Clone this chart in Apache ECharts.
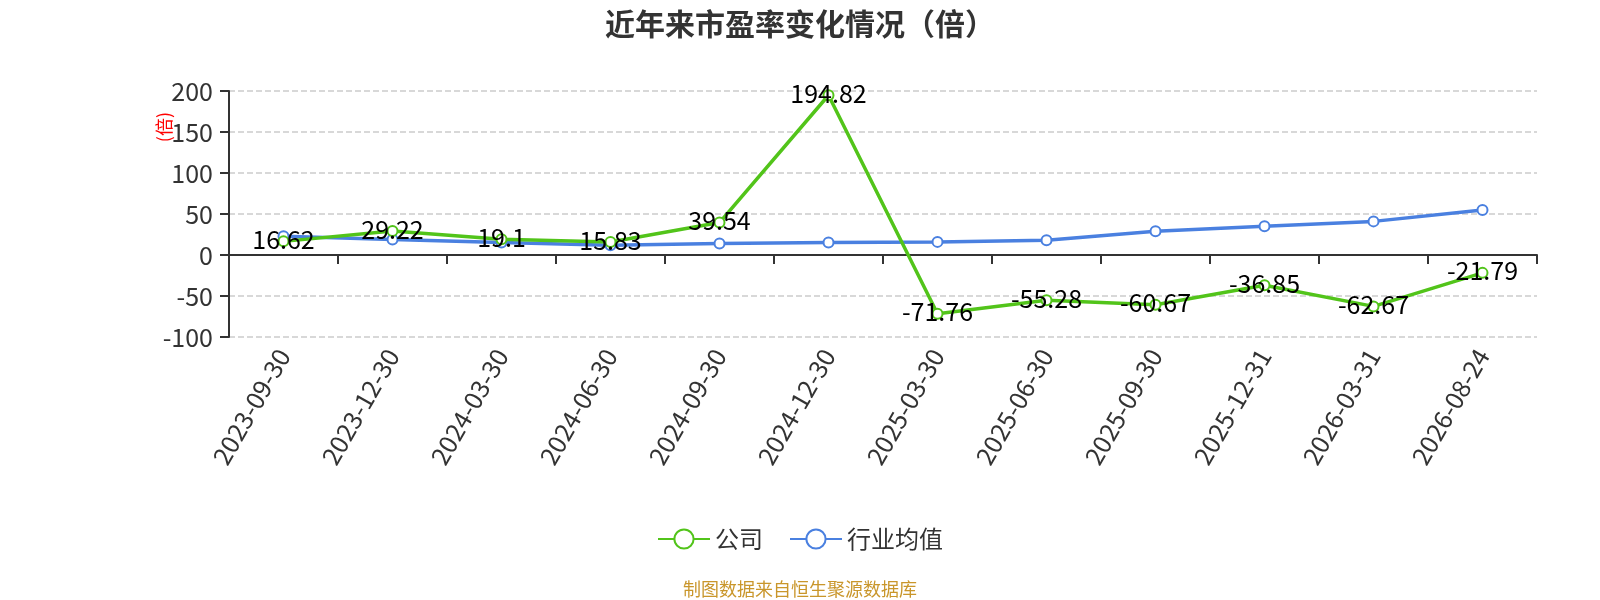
<!DOCTYPE html>
<html>
<head>
<meta charset="utf-8">
<script src="https://cdn.jsdelivr.net/npm/echarts@6/dist/echarts.min.js"></script>
<style>
  html, body { margin: 0; padding: 0; background: #fff; }
  #chart { width: 1600px; height: 600px; }
</style>
</head>
<body>
<div id="chart"></div>
<script>
const dates = ['2023-09-30', '2023-12-30', '2024-03-30', '2024-06-30', '2024-09-30', '2024-12-30',
  '2025-03-30', '2025-06-30', '2025-09-30', '2025-12-31', '2026-03-31', '2026-08-24'];
const companyPE = [16.62, 29.22, 19.1, 15.83, 39.54, 194.82, -71.76, -55.28, -60.67, -36.85, -62.67, -21.79];
const industryPE = [23, 19, 15.2, 12, 14, 15.2, 16, 18, 29, 35, 41, 55];
const yTicks = { min: -100, max: 200, step: 50 };

const font = '"Noto Sans CJK SC", "Noto Sans", sans-serif';
const green = '#52c41a';
const blue = '#4a80e0';

const chart = echarts.init(document.getElementById('chart'));
chart.setOption({
  animation: false,
  textStyle: { fontFamily: font },
  title: {
    text: '近年来市盈率变化情况（倍）',
    left: 'center',
    top: 4,
    textStyle: { fontSize: 30, fontWeight: 'bold', color: '#333', fontFamily: font }
  },
  graphic: [
    {
      type: 'text',
      left: 155, top: 112,
      rotation: Math.PI / 2,
      style: { text: '(倍)', fill: '#ff0000', font: '18px ' + font }
    },
    {
      type: 'text',
      left: 'center', top: 580,
      style: { text: '制图数据来自恒生聚源数据库', fill: '#c9962b', font: '18px ' + font }
    }
  ],
  legend: {
    bottom: 44,
    left: 'center',
    itemWidth: 52,
    itemHeight: 24,
    itemGap: 26,
    textStyle: { fontSize: 24, color: '#333', fontFamily: font },
    data: ['公司', '行业均值']
  },
  grid: { left: 229, right: 63, top: 91, bottom: 263 },
  xAxis: [
    {
      type: 'category',
      data: dates,
      boundaryGap: true,
      axisLine: { onZero: true, lineStyle: { color: '#333', width: 2 } },
      axisTick: { show: true, length: 9, lineStyle: { color: '#333', width: 2 } },
      axisLabel: { show: false }
    },
    {
      type: 'category',
      data: dates,
      position: 'bottom',
      boundaryGap: true,
      axisLine: { show: false, onZero: false },
      axisTick: { show: false },
      axisLabel: { rotate: 60, fontSize: 25, color: '#333', margin: 14, interval: 0, fontFamily: font }
    }
  ],
  yAxis: {
    type: 'value',
    min: yTicks.min,
    max: yTicks.max,
    interval: yTicks.step,
    axisLine: { show: true, lineStyle: { color: '#333', width: 2 } },
    axisTick: { show: true, length: 9, lineStyle: { color: '#333', width: 2 } },
    axisLabel: { fontSize: 25, color: '#333', margin: 16, fontFamily: font },
    splitLine: { show: true, lineStyle: { color: '#ccc', type: 'dashed', width: 1.5 } }
  },
  series: [
    {
      name: '公司',
      type: 'line',
      data: companyPE,
      symbol: 'emptyCircle',
      symbolSize: 10,
      itemStyle: { color: green },
      lineStyle: { color: green, width: 3.5 },
      label: { show: true, position: 'inside', offset: [0, -2], fontSize: 25, color: '#000', fontFamily: font },
      z: 3
    },
    {
      name: '行业均值',
      type: 'line',
      data: industryPE,
      symbol: 'emptyCircle',
      symbolSize: 10,
      itemStyle: { color: blue },
      lineStyle: { color: blue, width: 3.5 },
      z: 2
    }
  ]
});
</script>
</body>
</html>
